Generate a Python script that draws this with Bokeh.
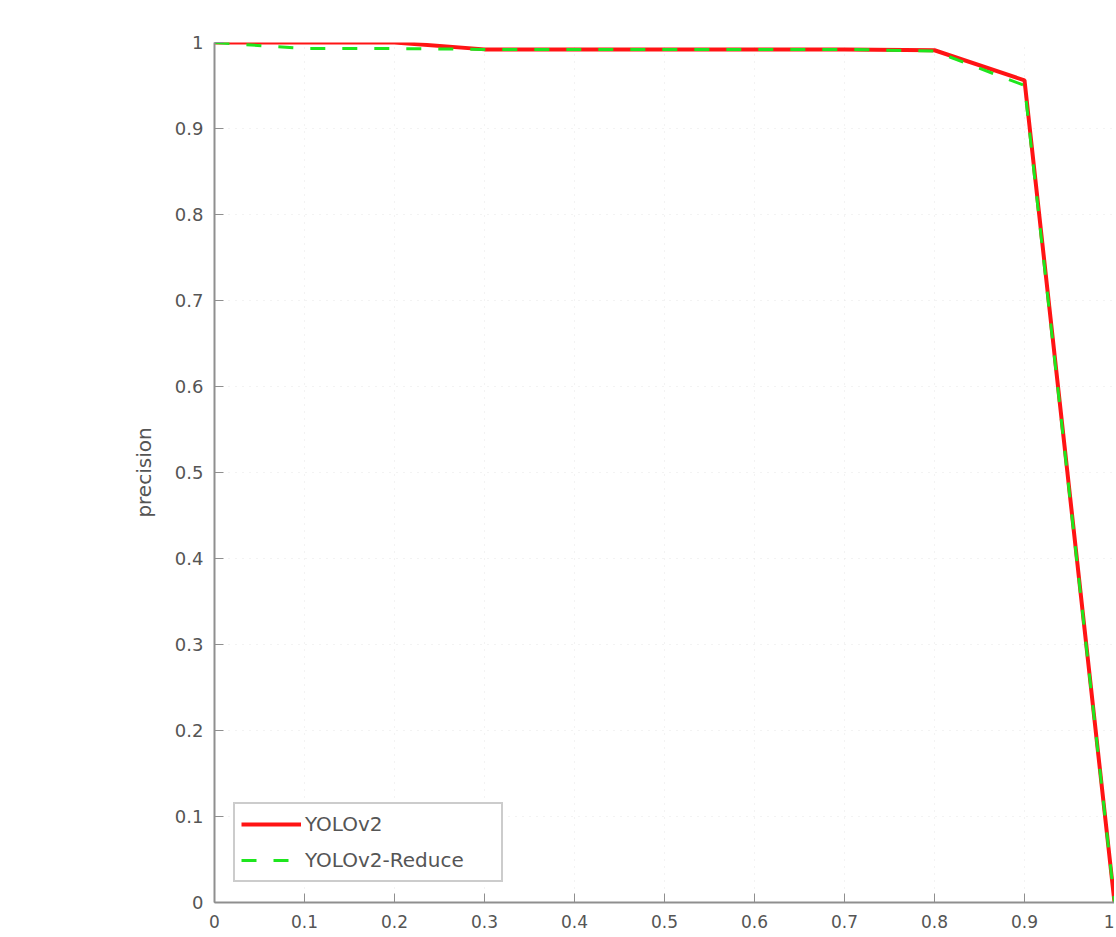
from bokeh.plotting import figure
from bokeh.models import FixedTicker, Range1d, Legend, LegendItem
from bokeh.embed import file_html
from bokeh.resources import INLINE

recall = [0.0, 0.1, 0.2, 0.3, 0.4, 0.5, 0.6, 0.7, 0.8, 0.9, 1.0]
yolov2 = [1.0, 1.0, 1.0, 0.992, 0.992, 0.992, 0.992, 0.992, 0.991, 0.956, 0.0]
yolov2_reduce = [1.0, 0.993, 0.993, 0.992, 0.992, 0.992, 0.992, 0.992, 0.990, 0.950, 0.0]

tick_vals = [0.0, 0.1, 0.2, 0.3, 0.4, 0.5, 0.6, 0.7, 0.8, 0.9, 1.0]
tick_labels = ["0", "0.1", "0.2", "0.3", "0.4", "0.5", "0.6", "0.7", "0.8", "0.9", "1"]
series_names = ["YOLOv2", "YOLOv2-Reduce"]

FONT = "DejaVu Sans"
TXT = "#555555"

p = figure(width=1114, height=935, output_backend="svg", toolbar_location=None,
           x_range=Range1d(0, 1), y_range=Range1d(0, 1),
           min_border_left=214, min_border_right=0, min_border_top=42, min_border_bottom=33)
p.outline_line_color = None
p.background_fill_color = "white"
p.border_fill_color = "white"

overrides = {v: l for v, l in zip(tick_vals, tick_labels)}
for ax in (p.xaxis[0], p.yaxis[0]):
    ax.ticker = FixedTicker(ticks=tick_vals)
    ax.major_label_overrides = overrides
    ax.major_tick_in = 9
    ax.major_tick_out = 0
    ax.minor_tick_line_color = None
    ax.axis_line_color = "#8f8f8f"
    ax.axis_line_width = 2
    ax.major_tick_line_color = "#8f8f8f"
    ax.major_label_text_font = FONT
    ax.major_label_text_color = TXT

p.yaxis.major_label_text_font_size = "18px"
p.xaxis.major_label_text_font_size = "17px"
p.yaxis.major_label_standoff = 11
p.xaxis.major_label_standoff = 12
p.yaxis.axis_label = "precision"
p.yaxis.axis_label_text_font = FONT
p.yaxis.axis_label_text_font_size = "20px"
p.yaxis.axis_label_text_font_style = "normal"
p.yaxis.axis_label_text_color = TXT
p.yaxis.axis_label_standoff = 16

for g in (p.xgrid[0], p.ygrid[0]):
    g.ticker = FixedTicker(ticks=tick_vals)
    g.grid_line_color = "#e6e6e6"
    g.grid_line_dash = "1 6"
    g.grid_line_width = 1

r1 = p.line(recall, yolov2, line_color="#ff1414", line_width=4)
r2 = p.line(recall, yolov2_reduce, line_color="#1ee61e", line_width=3, line_dash="15 17")

legend = Legend(items=[LegendItem(label=series_names[0], renderers=[r1]),
                       LegendItem(label=series_names[1], renderers=[r2])],
                location=(19, 20))
legend.label_text_font = FONT
legend.label_text_font_size = "20px"
legend.label_text_color = TXT
legend.glyph_width = 60
legend.glyph_height = 28
legend.label_height = 28
legend.label_width = 190
legend.label_standoff = 4
legend.spacing = 8
legend.padding = 6
legend.margin = 0
legend.border_line_color = "#9a9a9a"
legend.border_line_width = 2
legend.background_fill_alpha = 1
p.add_layout(legend, "center")

open("out.html", "w").write(file_html(p, INLINE))
